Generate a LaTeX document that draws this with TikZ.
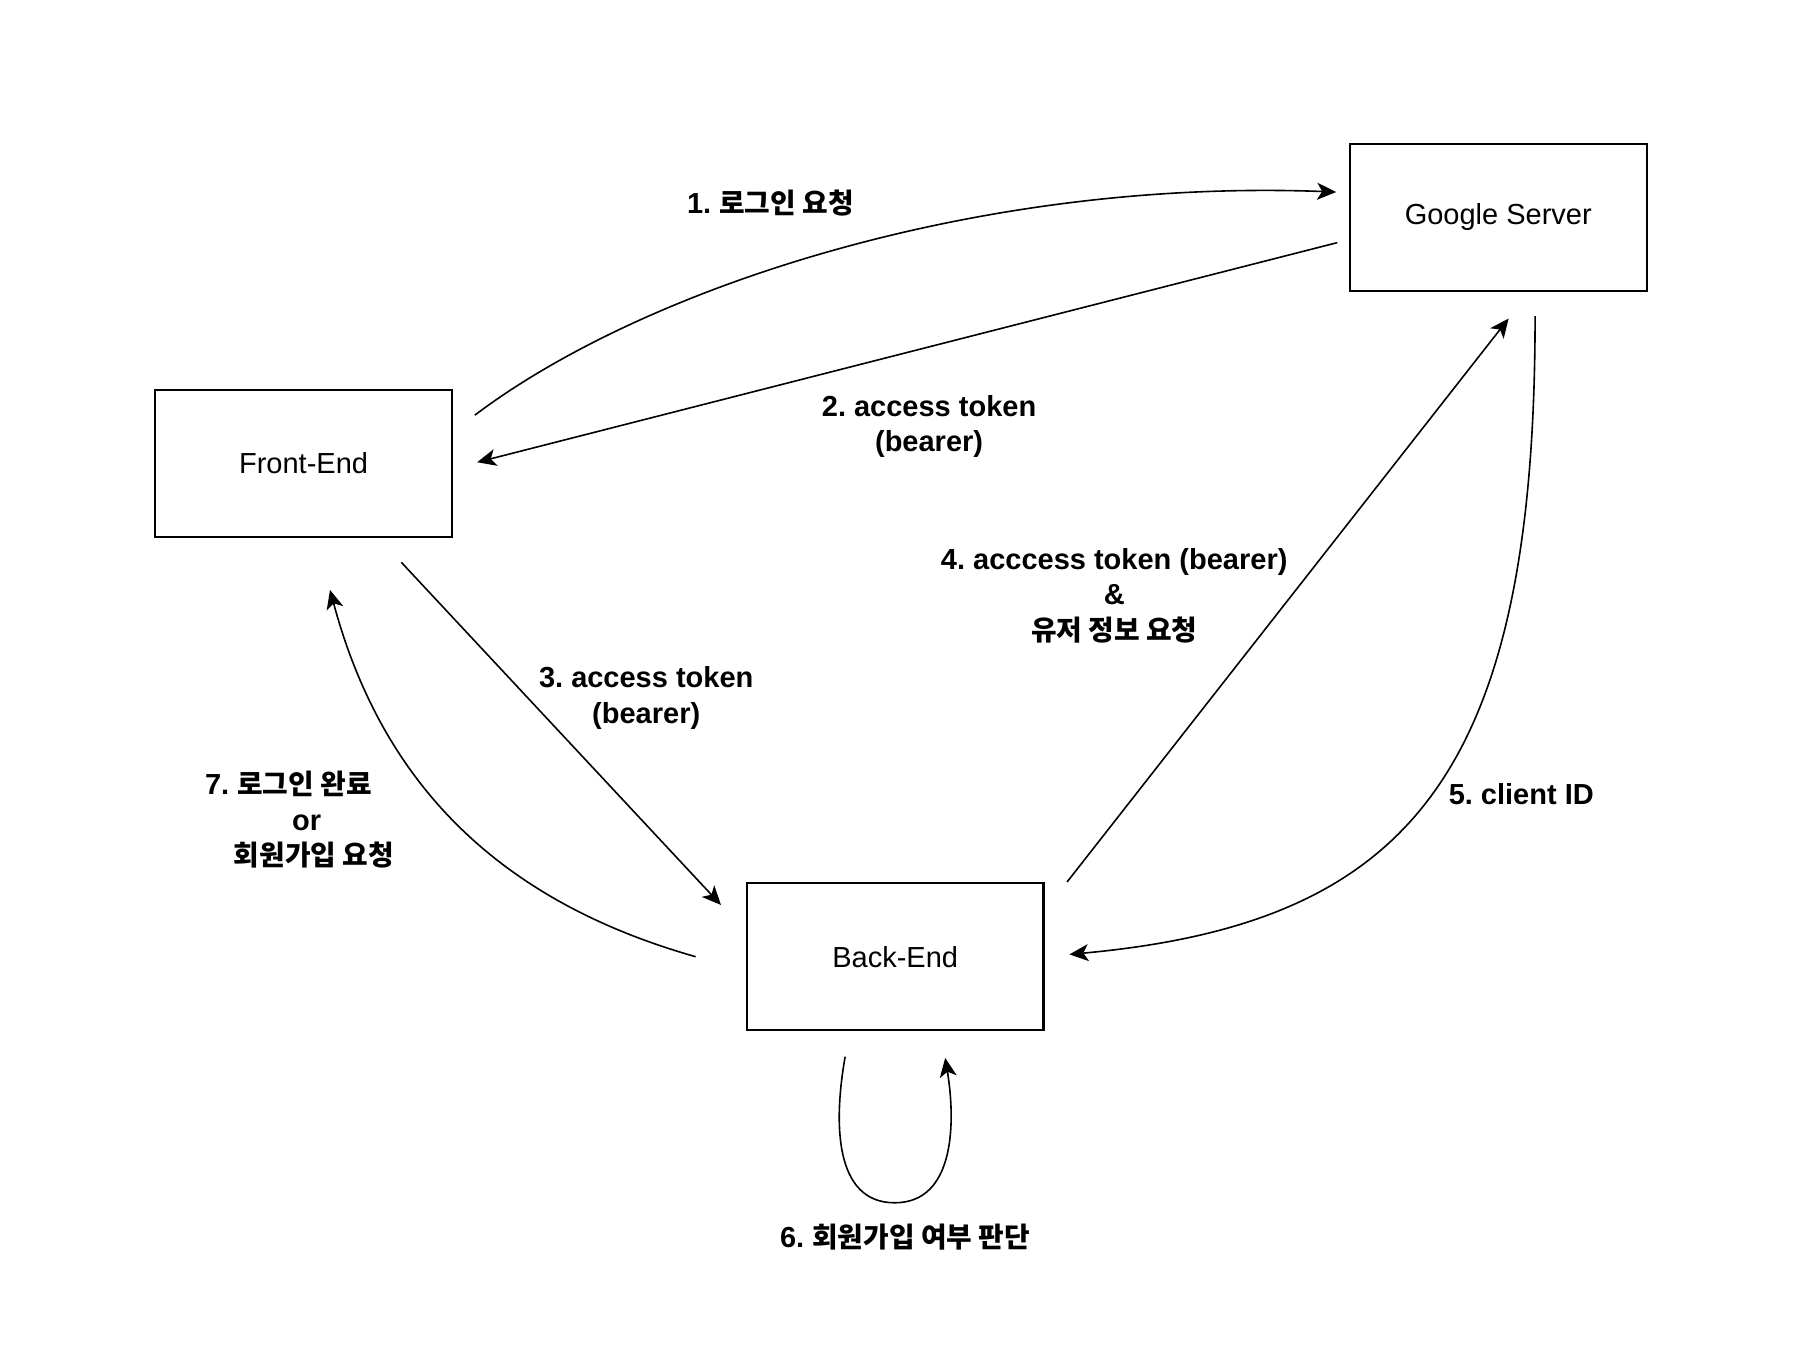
\documentclass[tikz,border=0pt]{standalone}
\usepackage{fontspec}
\setmainfont{Liberation Sans}
\newfontfamily\kr[Scale=0.96]{Noto Sans CJK KR}
\usetikzlibrary{arrows.meta}
\frenchspacing
\begin{document}
\begin{tikzpicture}[x=0.575pt,y=-0.575pt,
  box/.style={draw, line width=1.1pt, minimum width=148.4pt, minimum height=73.6pt, inner sep=0pt, font=\fontsize{14.5}{17.5}\selectfont},
  lbl/.style={font=\bfseries\fontsize{14.5}{17.8}\selectfont, align=center, inner sep=0pt},
  conn/.style={line width=0.8pt, -{Stealth[length=9.5pt,width=8.5pt,inset=2.5pt]}}]
\useasboundingbox (0,0) rectangle (1568,1175);
\fill[white] (0,0) rectangle (1568,1175);

% boxes
\node[box] (GS) at (1303,189) {Google Server};
\node[box] (FE) at (264,403) {Front-End};
\node[box] (BE) at (778.5,832) {Back-End};

% connector end points
\coordinate (a1s) at (413,361);   \coordinate (a1e) at (1162,167);
\coordinate (a2s) at (1163,211);  \coordinate (a2e) at (415,402);
\coordinate (a3s) at (349,489);   \coordinate (a3e) at (627,787);
\coordinate (a4s) at (928,767);   \coordinate (a4e) at (1312,277);
\coordinate (a5s) at (1335,275);  \coordinate (a5e) at (930,830);
\coordinate (a6s) at (735,919);   \coordinate (a6m) at (778,1046);  \coordinate (a6e) at (822,920);
\coordinate (a7s) at (605,832);   \coordinate (a7e) at (287,513);

% connectors
\draw[conn] (a1s) .. controls (560,250) and (850,155) .. (a1e);
\draw[conn] (a2s) -- (a2e);
\draw[conn] (a3s) -- (a3e);
\draw[conn] (a4s) -- (a4e);
\draw[conn] (a5s) .. controls (1335,675) and (1225,803) .. (a5e);
\draw[conn] (a6s) .. controls (725,975) and (725,1046) .. (a6m) .. controls (831,1046) and (831,975) .. (a6e);
\draw[conn] (a7s) .. controls (425,781) and (330,673) .. (a7e);

% labels
\node[lbl] (l1) at (670,177) {1. {\kr 로그인 요청}};
\node[lbl] (l2) at (808,371) {2. access token\\(bearer)};
\node[lbl] (l3) at (562,607) {3. access token\\(bearer)};
\node[lbl] (l4) at (969,518) {4. acccess token (bearer)\\\&\\{\kr 유저 정보 요청}};
\node[lbl] (l5) at (1323,691) {5. client ID};
\node[lbl] (l6) at (787,1076) {6. {\kr 회원가입 여부 판단}};
\node[lbl, align=left, anchor=west] (l7) at (178,713) {7. {\kr 로그인 완료}\\\hspace*{43.5pt}or\\\hspace*{14.4pt}{\kr 회원가입 요청}};
\end{tikzpicture}
\end{document}
